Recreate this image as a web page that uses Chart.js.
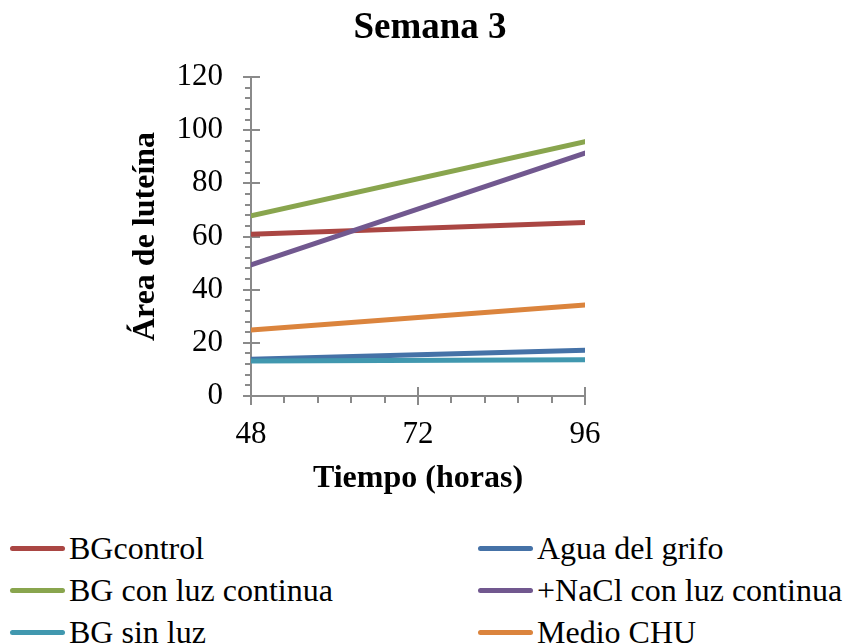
<!DOCTYPE html>
<html>
<head>
<meta charset="utf-8">
<script src="https://cdn.jsdelivr.net/npm/chart.js@4/dist/chart.umd.min.js"></script>
<style>
  body { margin: 0; background: #fff; }
  #wrap { position: relative; width: 843px; height: 644px; overflow: hidden; font-family: 'Liberation Serif', 'Times New Roman', serif; }
  #title { position: absolute; left: 0; width: 860px; top: 3px; text-align: center; font-weight: bold; font-size: 37px; line-height: 46px; }
  #chart { position: absolute; left: 0; top: 0; }
  #legend { position: absolute; left: 0; top: 527px; width: 843px; }
  .item { position: absolute; height: 42px; display: flex; align-items: center; font-size: 32px; white-space: nowrap; }
  .swatch { width: 55px; height: 5px; border-radius: 3px; margin-right: 4px; }
</style>
</head>
<body>
<div id="wrap">
  <canvas id="chart" width="843" height="520"></canvas>
  <div id="title">Semana 3</div>
  <div id="legend"></div>
</div>
<script>
const horas = [48, 96];
const seriesNames = ['BGcontrol', 'Agua del grifo', 'BG con luz continua', '+NaCl con luz continua', 'BG sin luz', 'Medio CHU'];
const bgControl = [60.8, 65.3];
const aguaGrifo = [13.8, 17.2];
const bgLuzContinua = [67.8, 95.7];
const naclLuzContinua = [49.3, 91.4];
const bgSinLuz = [13.2, 13.6];
const medioCHU = [24.8, 34.2];
const seriesColors = ['#AA4643', '#4572A7', '#89A54E', '#71588F', '#4198AF', '#DB843D'];
const yTicks = [0, 20, 40, 60, 80, 100, 120];
const xTicks = [48, 72, 96];

const seriesValues = [bgControl, aguaGrifo, bgLuzContinua, naclLuzContinua, bgSinLuz, medioCHU];
const serif = "'Liberation Serif', 'Times New Roman', serif";
const axisColor = '#8a8a8a';

// axis lines with major ticks crossing the axis and small minor ticks outside
const axisTicks = {
  id: 'axisTicks',
  beforeDatasetsDraw(chart) {
    const { ctx, chartArea: a, scales: { x, y } } = chart;
    ctx.save();
    ctx.strokeStyle = axisColor;
    ctx.lineWidth = 2;
    ctx.beginPath();
    ctx.moveTo(a.left, a.top); ctx.lineTo(a.left, a.bottom);
    ctx.moveTo(a.left, a.bottom); ctx.lineTo(a.right, a.bottom);
    for (let v = 0; v <= 120; v += 4) {
      const py = Math.round(y.getPixelForValue(v));
      const major = v % 20 === 0;
      ctx.moveTo(a.left - (major ? 8 : 6), py);
      ctx.lineTo(a.left + (major ? 9 : 0), py);
    }
    for (let i = 0; i <= 10; i++) {
      const px = Math.round(x.getPixelForValue(48 + i * 4.8));
      const major = i % 5 === 0;
      ctx.moveTo(px, a.bottom - (major ? 9 : 0));
      ctx.lineTo(px, a.bottom + (major ? 9 : 7));
    }
    ctx.stroke();
    ctx.restore();
  }
};

const n = seriesNames.length;
const datasets = seriesNames.map((name, i) => ({
  label: name,
  data: horas.map((h, j) => ({ x: h, y: seriesValues[i][j] })),
  borderColor: seriesColors[i],
  backgroundColor: seriesColors[i],
  borderWidth: 5,
  borderCapStyle: 'round',
  pointRadius: 0,
  tension: 0,
  order: n - 1 - i
}));

new Chart(document.getElementById('chart'), {
  type: 'line',
  data: { datasets },
  plugins: [axisTicks],
  options: {
    responsive: false,
    animation: false,
    layout: { padding: { left: 0, right: 258, top: 77, bottom: 0 } },
    plugins: { legend: { display: false }, title: { display: false }, tooltip: { enabled: false } },
    scales: {
      x: {
        type: 'linear', min: 48, max: 96,
        afterBuildTicks(scale) { scale.ticks = xTicks.map(v => ({ value: v })); },
        afterFit(scale) { scale.height = 520 - 396; },
        grid: { display: false, drawTicks: false },
        border: { display: false },
        ticks: { color: '#000', padding: 20, maxRotation: 0, font: { family: serif, size: 31 } },
        title: { display: true, text: 'Tiempo (horas)', color: '#000', padding: { top: 0, bottom: 22 }, font: { family: serif, size: 32, weight: 'bold' } }
      },
      y: {
        min: 0, max: 120,
        afterBuildTicks(scale) { scale.ticks = yTicks.map(v => ({ value: v })); },
        afterFit(scale) { scale.width = 251; },
        grid: { display: false, drawTicks: false },
        border: { display: false },
        ticks: { color: '#000', padding: 28, font: { family: serif, size: 31 } },
        title: { display: true, text: 'Área de luteína', color: '#000', padding: { top: 127, bottom: 0 }, font: { family: serif, size: 32, weight: 'bold' } }
      }
    }
  }
});

// legend in two columns, row by row
const legend = document.getElementById('legend');
seriesNames.forEach((name, i) => {
  const item = document.createElement('div');
  item.className = 'item';
  item.style.left = (i % 2 === 0 ? 10 : 478) + 'px';
  item.style.top = (Math.floor(i / 2) * 42) + 'px';
  const sw = document.createElement('span');
  sw.className = 'swatch';
  sw.style.background = seriesColors[i];
  const label = document.createElement('span');
  label.textContent = name;
  item.appendChild(sw);
  item.appendChild(label);
  legend.appendChild(item);
});
</script>
</body>
</html>
